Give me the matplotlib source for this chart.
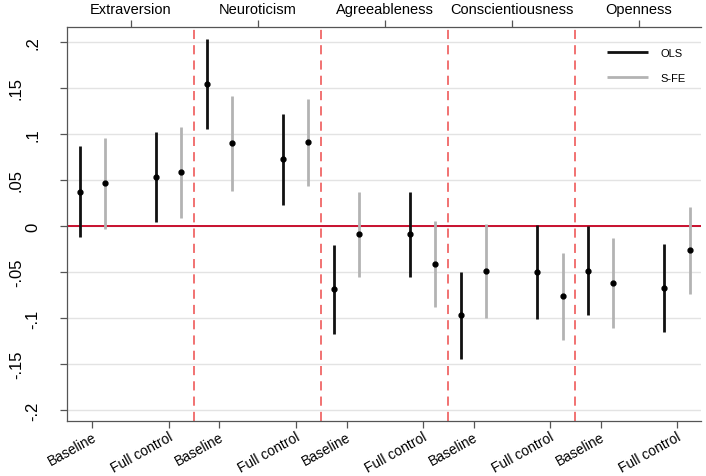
import numpy as np
import matplotlib
matplotlib.use("Agg")
import matplotlib.pyplot as plt

plt.rcParams['font.family'] = ['Liberation Sans', 'DejaVu Sans']

traits = ['Extraversion', 'Neuroticism', 'Agreeableness', 'Conscientiousness', 'Openness']
specs = ['Baseline', 'Full control']

# order: trait x (Baseline, Full control)
ols_est = [0.037, 0.053, 0.154, 0.073, -0.069, -0.009, -0.097, -0.050, -0.049, -0.067]
ols_lo = [-0.012, 0.004, 0.105, 0.023, -0.117, -0.055, -0.145, -0.101, -0.097, -0.115]
ols_hi = [0.087, 0.102, 0.203, 0.122, -0.021, 0.037, -0.050, 0.001, 0.000, -0.020]

sfe_est = [0.047, 0.059, 0.090, 0.091, -0.009, -0.041, -0.049, -0.076, -0.062, -0.026]
sfe_lo = [-0.003, 0.009, 0.038, 0.043, -0.055, -0.088, -0.100, -0.124, -0.111, -0.074]
sfe_hi = [0.096, 0.108, 0.141, 0.138, 0.037, 0.005, 0.002, -0.029, -0.013, 0.021]

# y labels alternate (Stata style): main row and staggered row
yticks_main = [0.2, 0.1, 0, -0.1, -0.2]
ylabels_main = ['.2', '.1', '0', '-.1', '-.2']
yticks_alt = [0.15, 0.05, -0.05, -0.15]
ylabels_alt = ['.15', '.05', '-.05', '-.15']

# x positions: each trait gets 5 slots, OLS/S-FE side by side per spec
base = np.repeat(np.arange(len(traits)) * 5, 2) + np.tile([1, 4], len(traits))
x_ols = base
x_sfe = base + 1

fig = plt.figure(figsize=(7.06, 4.77), dpi=100)
ax = fig.add_axes([0.0949, 0.1153, 0.898, 0.826])

for y in yticks_main + yticks_alt:
    ax.axhline(y, color='#e3e3e3', lw=1.0, zorder=0)
ax.axhline(0, color='#c8102e', lw=1.4, zorder=1)
for k in range(len(traits) - 1):
    ax.axvline(5 * k + 5.5, color='#ee4b4b', lw=1.1, ls=(0, (6, 4)), zorder=1)

ax.vlines(x_ols, ols_lo, ols_hi, color='#111111', lw=2.0, zorder=2, label='OLS')
ax.vlines(x_sfe, sfe_lo, sfe_hi, color='#b3b3b3', lw=2.0, zorder=2, label='S-FE')
ax.plot(x_ols, ols_est, 'o', color='black', ms=3.5, zorder=3)
ax.plot(x_sfe, sfe_est, 'o', color='black', ms=3.5, zorder=3)

ax.set_xlim(0.5, 25.45)
ax.set_ylim(-0.212, 0.2163)

ax.set_yticks(yticks_main)
ax.set_yticklabels(ylabels_main, rotation=90, va='center', fontsize=12)
ax.set_yticks(yticks_alt, minor=True)
ax.set_yticklabels(ylabels_alt, minor=True, rotation=90, va='center', fontsize=12)

xt = np.concatenate([[5 * k + 1.5, 5 * k + 4.5] for k in range(len(traits))])
ax.set_xticks(xt)
ax.set_xticklabels(specs * len(traits), rotation=29, ha='right', va='top',
                   rotation_mode='anchor', fontsize=10)

ax.tick_params(axis='both', which='both', direction='out', length=5, width=0.9, color='#555555')
ax.tick_params(axis='x', pad=1)
ax.tick_params(axis='y', which='major', pad=14)
ax.tick_params(axis='y', which='minor', pad=26)
for s in ['right', 'top']:
    ax.spines[s].set_visible(False)
for s in ['left', 'bottom']:
    ax.spines[s].set_color('#555555')
    ax.spines[s].set_linewidth(0.9)

top = ax.secondary_xaxis('top')
top.set_xticks([5 * k + 3 for k in range(len(traits))])
top.set_xticklabels(traits, fontsize=10.5)
top.tick_params(direction='out', length=5, width=0.9, color='#555555', pad=3)
top.spines['top'].set_color('#555555')
top.spines['top'].set_linewidth(0.9)

ax.legend(loc='upper left', bbox_to_anchor=(0.836, 0.973), frameon=False, fontsize=8,
          handlelength=3.7, labelspacing=1.4, handletextpad=1.1)

fig.savefig('out.png', dpi=100)
